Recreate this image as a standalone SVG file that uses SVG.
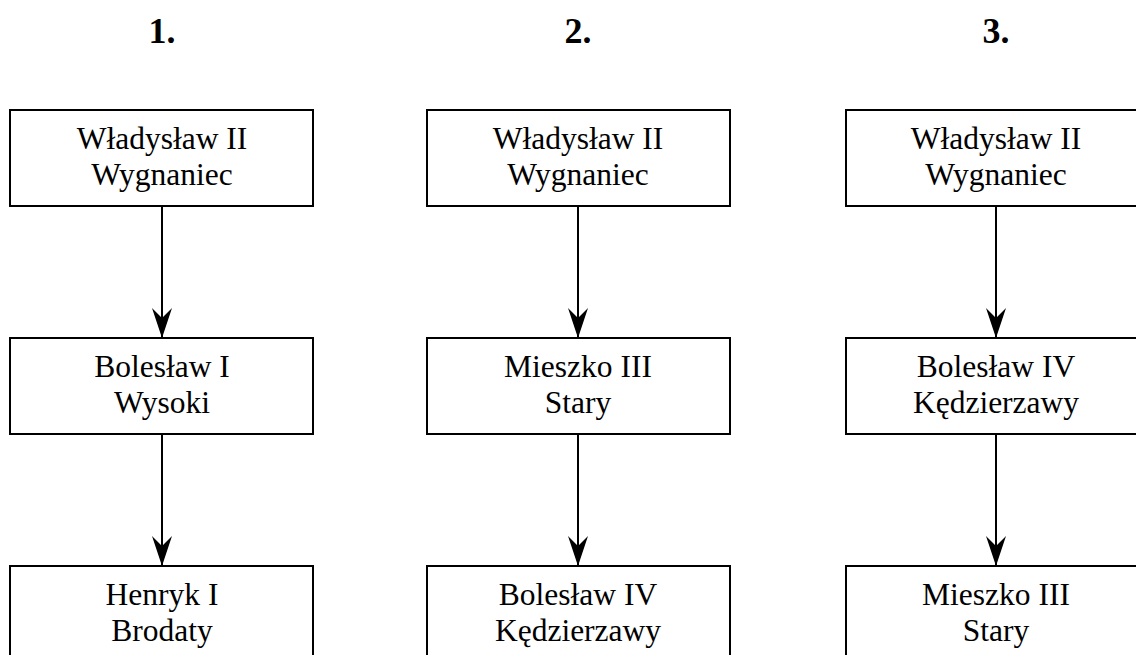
<svg xmlns="http://www.w3.org/2000/svg" width="1136" height="655" viewBox="0 0 1136 655">
<defs>
<style>
.box{fill:#fff;stroke:#000;stroke-width:2}
.t{font-family:"Liberation Serif","Times New Roman",serif;font-size:31.5px;text-anchor:middle;fill:#000}
.h{font-family:"Liberation Serif","Times New Roman",serif;font-size:36px;font-weight:bold;text-anchor:middle;fill:#000}
.c{stroke:#000;stroke-width:2;fill:none;marker-end:url(#ah)}
</style>
<marker id="ah" markerUnits="userSpaceOnUse" markerWidth="34" markerHeight="24" viewBox="-32 -12 34 24" refX="0" refY="0" orient="auto">
<path d="M0,0 L-30,-10 L-20,0 L-30,10 Z" fill="#000"/>
</marker>
</defs>
<g id="headers">
<text class="h" x="162" y="43">1.</text>
<text class="h" x="578" y="43">2.</text>
<text class="h" x="996" y="43">3.</text>
</g>
<g id="connectors">
<line class="c" x1="162" y1="206" x2="162" y2="338"/>
<line class="c" x1="162" y1="434" x2="162" y2="566"/>
<line class="c" x1="578" y1="206" x2="578" y2="338"/>
<line class="c" x1="578" y1="434" x2="578" y2="566"/>
<line class="c" x1="996" y1="206" x2="996" y2="338"/>
<line class="c" x1="996" y1="434" x2="996" y2="566"/>
</g>
<g id="n1a"><rect class="box" x="10" y="110" width="303" height="96"/><text class="t" x="162" y="149">Władysław II</text><text class="t" x="162" y="185">Wygnaniec</text></g>
<g id="n1b"><rect class="box" x="10" y="338" width="303" height="96"/><text class="t" x="162" y="377">Bolesław I</text><text class="t" x="162" y="413">Wysoki</text></g>
<g id="n1c"><rect class="box" x="10" y="566" width="303" height="96"/><text class="t" x="162" y="605">Henryk I</text><text class="t" x="162" y="641">Brodaty</text></g>
<g id="n2a"><rect class="box" x="427" y="110" width="303" height="96"/><text class="t" x="578" y="149">Władysław II</text><text class="t" x="578" y="185">Wygnaniec</text></g>
<g id="n2b"><rect class="box" x="427" y="338" width="303" height="96"/><text class="t" x="578" y="377">Mieszko III</text><text class="t" x="578" y="413">Stary</text></g>
<g id="n2c"><rect class="box" x="427" y="566" width="303" height="96"/><text class="t" x="578" y="605">Bolesław IV</text><text class="t" x="578" y="641">Kędzierzawy</text></g>
<g id="n3a"><rect class="box" x="846" y="110" width="303" height="96"/><text class="t" x="996" y="149">Władysław II</text><text class="t" x="996" y="185">Wygnaniec</text></g>
<g id="n3b"><rect class="box" x="846" y="338" width="303" height="96"/><text class="t" x="996" y="377">Bolesław IV</text><text class="t" x="996" y="413">Kędzierzawy</text></g>
<g id="n3c"><rect class="box" x="846" y="566" width="303" height="96"/><text class="t" x="996" y="605">Mieszko III</text><text class="t" x="996" y="641">Stary</text></g>
</svg>
